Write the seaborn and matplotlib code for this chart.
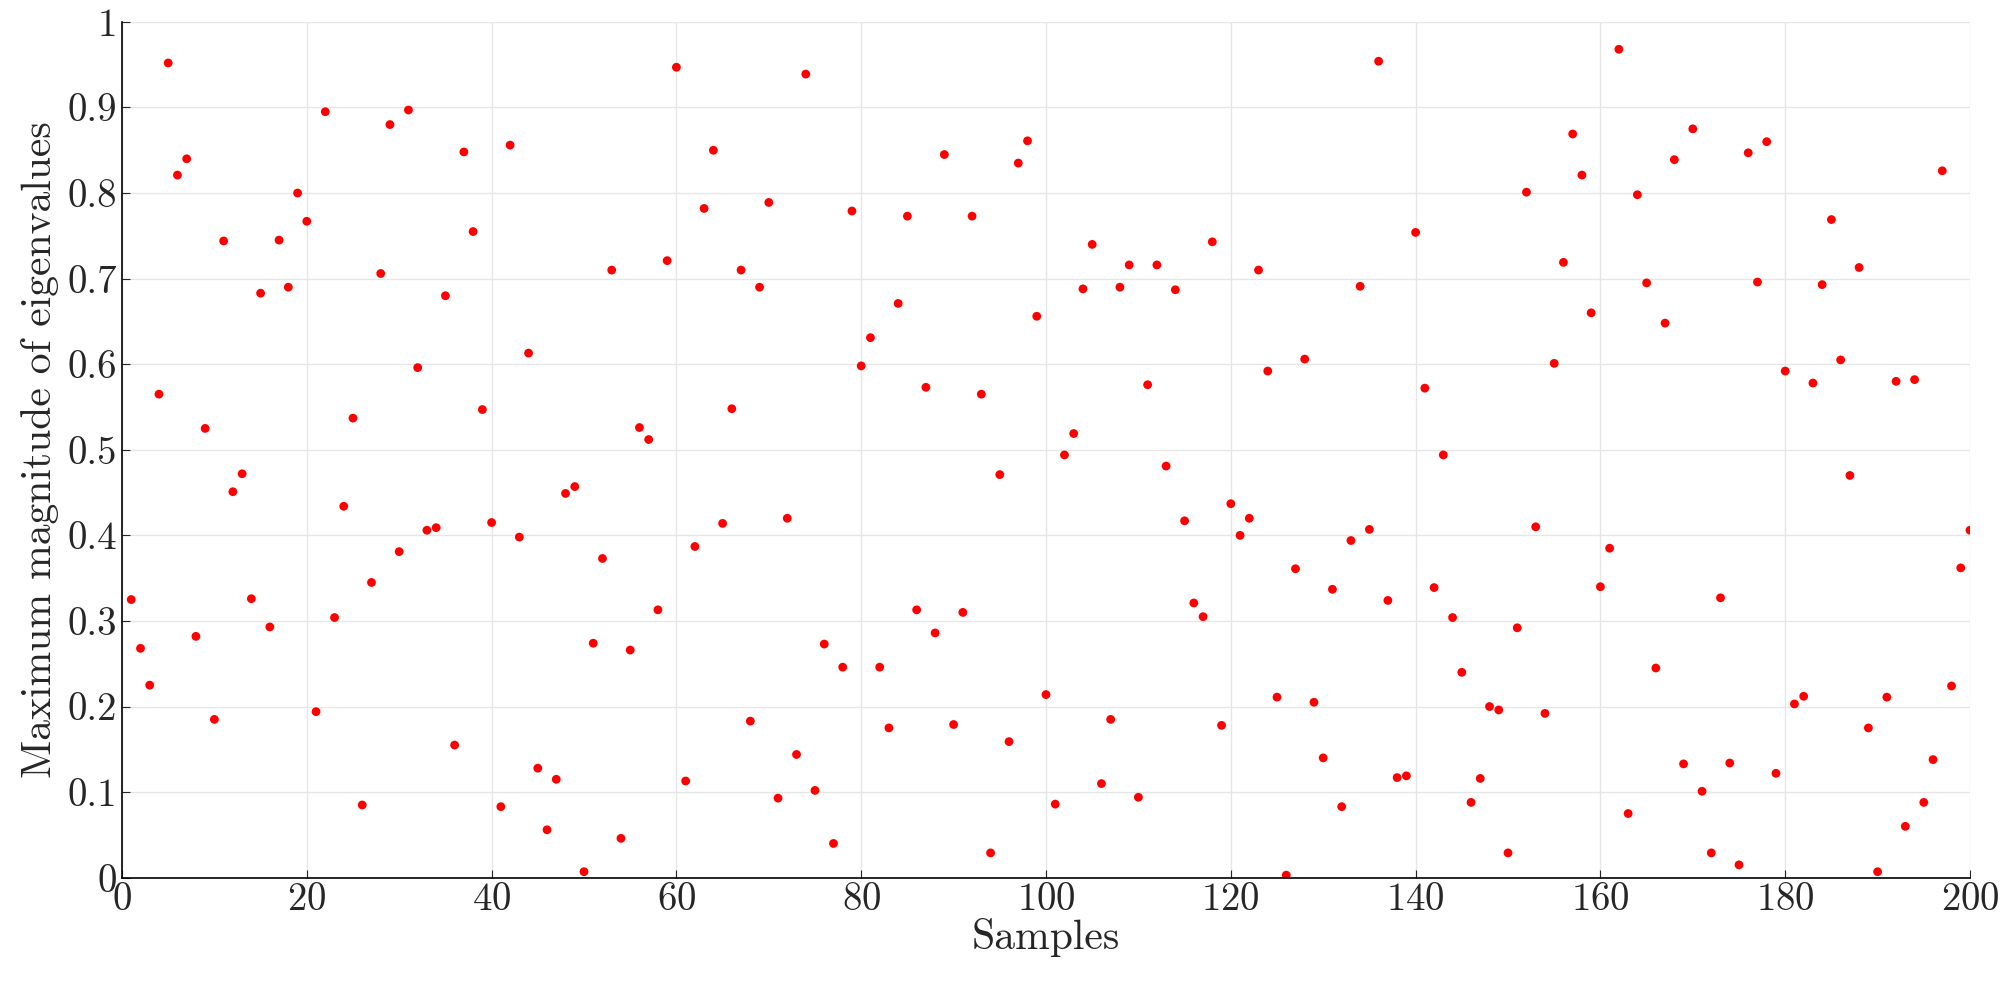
import matplotlib
matplotlib.use("Agg")
import matplotlib.pyplot as plt
import seaborn as sns
import numpy as np

samples = np.arange(1, 201)
max_eig = [
    0.325, 0.268, 0.225, 0.565, 0.952, 0.821, 0.840, 0.282, 0.525, 0.185,
    0.744, 0.451, 0.472, 0.326, 0.683, 0.293, 0.745, 0.690, 0.800, 0.767,
    0.194, 0.895, 0.304, 0.434, 0.537, 0.085, 0.345, 0.706, 0.880, 0.381,
    0.897, 0.596, 0.406, 0.409, 0.680, 0.155, 0.848, 0.755, 0.547, 0.415,
    0.083, 0.856, 0.398, 0.613, 0.128, 0.056, 0.115, 0.449, 0.457, 0.007,
    0.274, 0.373, 0.710, 0.046, 0.266, 0.526, 0.512, 0.313, 0.721, 0.947,
    0.113, 0.387, 0.782, 0.850, 0.414, 0.548, 0.710, 0.183, 0.690, 0.789,
    0.093, 0.420, 0.144, 0.939, 0.102, 0.273, 0.040, 0.246, 0.779, 0.598,
    0.631, 0.246, 0.175, 0.671, 0.773, 0.313, 0.573, 0.286, 0.845, 0.179,
    0.310, 0.773, 0.565, 0.029, 0.471, 0.159, 0.835, 0.861, 0.656, 0.214,
    0.086, 0.494, 0.519, 0.688, 0.740, 0.110, 0.185, 0.690, 0.716, 0.094,
    0.576, 0.716, 0.481, 0.687, 0.417, 0.321, 0.305, 0.743, 0.178, 0.437,
    0.400, 0.420, 0.710, 0.592, 0.211, 0.003, 0.361, 0.606, 0.205, 0.140,
    0.337, 0.083, 0.394, 0.691, 0.407, 0.954, 0.324, 0.117, 0.119, 0.754,
    0.572, 0.339, 0.494, 0.304, 0.240, 0.088, 0.116, 0.200, 0.196, 0.029,
    0.292, 0.801, 0.410, 0.192, 0.601, 0.719, 0.869, 0.821, 0.660, 0.340,
    0.385, 0.968, 0.075, 0.798, 0.695, 0.245, 0.648, 0.839, 0.133, 0.875,
    0.101, 0.029, 0.327, 0.134, 0.015, 0.847, 0.696, 0.860, 0.122, 0.592,
    0.203, 0.212, 0.578, 0.693, 0.769, 0.605, 0.470, 0.713, 0.175, 0.007,
    0.211, 0.580, 0.060, 0.582, 0.088, 0.138, 0.826, 0.224, 0.362, 0.406,
]
y_ticklabels = ["0", "0.1", "0.2", "0.3", "0.4", "0.5", "0.6", "0.7", "0.8", "0.9", "1"]

sns.set_style("whitegrid")
plt.rcParams['font.family'] = ['serif']
plt.rcParams['font.serif'] = ['cmr10', 'DejaVu Serif']
plt.rcParams['axes.formatter.use_mathtext'] = True

fig = plt.figure(figsize=(20, 9.94), dpi=100)
ax = fig.add_axes([0.061, 0.117, 0.924, 0.861])

sns.scatterplot(x=samples, y=max_eig, color="red", s=40, edgecolor="none", ax=ax)

ax.set_xlim(0, 200)
ax.set_ylim(0, 1)
ax.set_xticks(np.arange(0, 201, 20))
ax.set_yticks(np.linspace(0, 1, 11))
ax.set_yticklabels(y_ticklabels)
ax.grid(True, color="#e6e6e6", linewidth=1)
for side in ["top", "right"]:
    ax.spines[side].set_visible(False)
for side in ["left", "bottom"]:
    ax.spines[side].set_color("black")
    ax.spines[side].set_linewidth(1.2)
ax.tick_params(labelsize=28, direction="in", length=6, bottom=True, left=True)
ax.set_xlabel("Samples", fontsize=30, labelpad=0)
ax.set_ylabel("Maximum magnitude of eigenvalues", fontsize=30, labelpad=6)

plt.savefig("out.png", dpi=100)
